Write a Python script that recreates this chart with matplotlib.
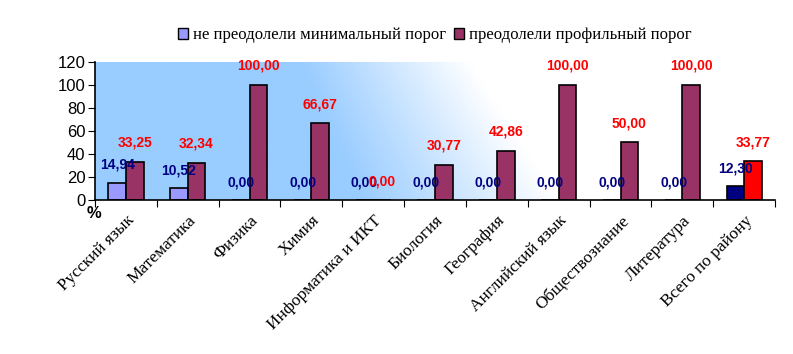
import numpy as np
import matplotlib
import matplotlib.pyplot as plt
from matplotlib.patches import Patch
matplotlib.use('Agg')

# данные с диаграммы
subjects = ['Русский язык', 'Математика', 'Физика', 'Химия', 'Информатика и ИКТ',
            'Биология', 'География', 'Английский язык', 'Обществознание',
            'Литература', 'Всего по району']
not_min = [14.94, 10.52, 0, 0, 0, 0, 0, 0, 0, 0, 12.30]
profile = [33.25, 32.34, 100, 66.67, 0, 30.77, 42.86, 100, 50, 100, 33.77]
legend_labels = ['не преодолели минимальный порог', 'преодолели профильный порог']

fig = plt.figure(figsize=(7.93, 3.54), dpi=100)
ax = fig.add_axes([0.1198, 0.435, 0.8577, 0.39])

# градиентный фон
n = len(subjects)
gx, gy = np.meshgrid(np.linspace(0, 1, 400), np.linspace(0, 1, 100))  # gy: 0 - верх
start = 0.30 + 0.09 * gy
end = 0.55 + 0.13 * gy
t = np.clip((gx - start) / (end - start), 0, 1)
blue = np.array([153, 204, 255]) / 255
img = blue[None, None, :] * (1 - t[..., None]) + np.ones(3)[None, None, :] * t[..., None]
ax.imshow(img, extent=[-0.5, n - 0.5, 0, 120], aspect='auto', zorder=0, origin='upper')

x = np.arange(n)
w = 0.285
c1 = ['#9999ff'] * (n - 1) + ['#000080']
c2 = ['#993366'] * (n - 1) + ['#ff0000']
ax.bar(x - w / 2, not_min, w, color=c1, edgecolor='black', linewidth=1.2, zorder=2)
ax.bar(x + w / 2, profile, w, color=c2, edgecolor='black', linewidth=1.2, zorder=2)

for i in range(n):
    ax.text(x[i] - w / 2, not_min[i] + 15.5, f'{not_min[i]:.2f}'.replace('.', ','),
            ha='center', va='center', color='#000080', fontsize=10, fontweight='bold',
            family='Liberation Sans', zorder=3)
    ax.text(x[i] + w / 2, profile[i] + 16.5, f'{profile[i]:.2f}'.replace('.', ','),
            ha='center', va='center', color='#ff0000', fontsize=10, fontweight='bold',
            family='Liberation Sans', zorder=3)

ax.set_xlim(-0.5, n - 0.5)
ax.set_ylim(0, 120)
ax.set_yticks(range(0, 121, 20))
for lab in ax.get_yticklabels():
    lab.set_family('Liberation Sans')
    lab.set_fontsize(12)
ax.set_xticks(np.arange(-0.5, n, 1))
ax.set_xticklabels([])
ax.set_xticks(x, minor=True)
ax.set_xticklabels(subjects, minor=True, rotation=45, ha='right', va='top',
                   rotation_mode='anchor', family='Liberation Serif', fontsize=12.5)
ax.tick_params(axis='x', which='minor', length=0, pad=9)
ax.tick_params(axis='x', which='major', length=5, direction='out')
ax.tick_params(axis='y', length=5, direction='out', pad=2)
for s in ['top', 'right']:
    ax.spines[s].set_visible(False)
ax.spines['left'].set_linewidth(1.2)
ax.spines['bottom'].set_linewidth(1.2)

fig.text(0.118, 0.397, '%', ha='center', va='center', fontsize=12, fontweight='bold',
         family='Liberation Sans')

handles = [Patch(facecolor='#9999ff', edgecolor='black'),
           Patch(facecolor='#993366', edgecolor='black')]
fig.legend(handles, legend_labels, loc='center', bbox_to_anchor=(0.548, 0.9), ncol=2,
           frameon=False, prop={'family': 'Liberation Serif', 'size': 12},
           handlelength=0.6, handleheight=0.6, handletextpad=0.3, columnspacing=0.5)

fig.savefig('out.png', dpi=100)
